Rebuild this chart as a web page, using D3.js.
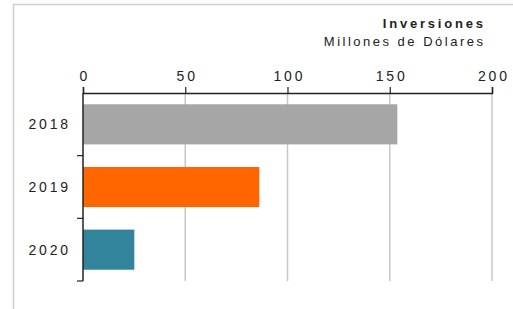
<!DOCTYPE html>
<html>
<head>
<meta charset="utf-8">
<script src="https://cdn.jsdelivr.net/npm/d3@7"></script>
<style>
  body { margin: 0; background: #fff; }
  svg { display: block; font-family: "Liberation Sans", Arial, sans-serif; }
</style>
</head>
<body>
<svg id="chart" width="513" height="309"></svg>
<script>
const years = ['2018', '2019', '2020'];
const values = [153.7, 86.2, 25.1];
const colors = ['#a6a6a6', '#ff6600', '#31849b'];
const xTicks = [0, 50, 100, 150, 200];

const numSpacing = 2.8;
const svg = d3.select('#chart');

// outer frame, runs off the right and bottom edges
svg.append('rect')
    .attr('x', 13.5).attr('y', 4.5)
    .attr('width', 560).attr('height', 360)
    .attr('fill', 'none')
    .attr('stroke', '#cfcfcf')
    .attr('stroke-width', 1.5);

const x = d3.scaleLinear().domain([0, 200]).range([83, 492]);
const y = d3.scaleBand().domain(years).range([93, 281]).paddingInner(0.36).paddingOuter(0.18);

// gridlines
svg.append('g')
    .selectAll('line')
    .data(xTicks.slice(1))
    .enter()
    .append('line')
    .attr('x1', d => x(d)).attr('x2', d => x(d))
    .attr('y1', 93).attr('y2', 281)
    .attr('stroke', '#c8c8c8')
    .attr('stroke-width', 1.5);

// bars
svg.append('g')
    .selectAll('rect')
    .data(values)
    .enter()
    .append('rect')
    .attr('x', x(0))
    .attr('y', (d, i) => y(years[i]))
    .attr('width', d => x(d) - x(0))
    .attr('height', y.bandwidth())
    .attr('fill', (d, i) => colors[i]);

// top axis
const xAxis = svg.append('g')
    .attr('transform', 'translate(0,93)')
    .call(d3.axisTop(x).tickValues(xTicks).tickSize(6).tickPadding(6));
xAxis.select('.domain').attr('stroke', '#222').attr('stroke-width', 1.5);
xAxis.selectAll('.tick line').attr('stroke', '#222').attr('stroke-width', 1.2);
xAxis.selectAll('text')
    .attr('fill', '#222')
    .attr('dx', numSpacing / 2)
    .style('font-size', '14px')
    .style('letter-spacing', numSpacing + 'px');

// left axis with ticks at band boundaries
const yAxis = svg.append('g').attr('transform', 'translate(83,0)');
yAxis.append('line')
    .attr('x1', 0).attr('x2', 0)
    .attr('y1', 93).attr('y2', 281)
    .attr('stroke', '#222').attr('stroke-width', 1.5);
const bounds = d3.range(1, years.length + 1).map(i => 93 + i * (281 - 93) / years.length);
yAxis.selectAll('line.tk')
    .data(bounds)
    .enter()
    .append('line')
    .attr('class', 'tk')
    .attr('x1', -6).attr('x2', 0)
    .attr('y1', d => d).attr('y2', d => d)
    .attr('stroke', '#222').attr('stroke-width', 1.2);
yAxis.selectAll('text')
    .data(years)
    .enter()
    .append('text')
    .attr('x', -15 + numSpacing)
    .attr('y', d => y(d) + y.bandwidth() / 2)
    .attr('dy', '0.35em')
    .attr('text-anchor', 'end')
    .attr('fill', '#222')
    .style('font-size', '14px')
    .style('letter-spacing', numSpacing + 'px')
    .text(d => d);

// title
svg.append('text')
    .attr('x', 483 + 2.8).attr('y', 28)
    .attr('text-anchor', 'end')
    .attr('fill', '#222')
    .style('font-size', '13px')
    .style('font-weight', 'bold')
    .style('letter-spacing', '2.8px')
    .text('Inversiones');
svg.append('text')
    .attr('x', 483 + 2.5).attr('y', 46)
    .attr('text-anchor', 'end')
    .attr('fill', '#222')
    .style('font-size', '13px')
    .style('letter-spacing', '2.5px')
    .text('Millones de Dólares');
</script>
</body>
</html>
